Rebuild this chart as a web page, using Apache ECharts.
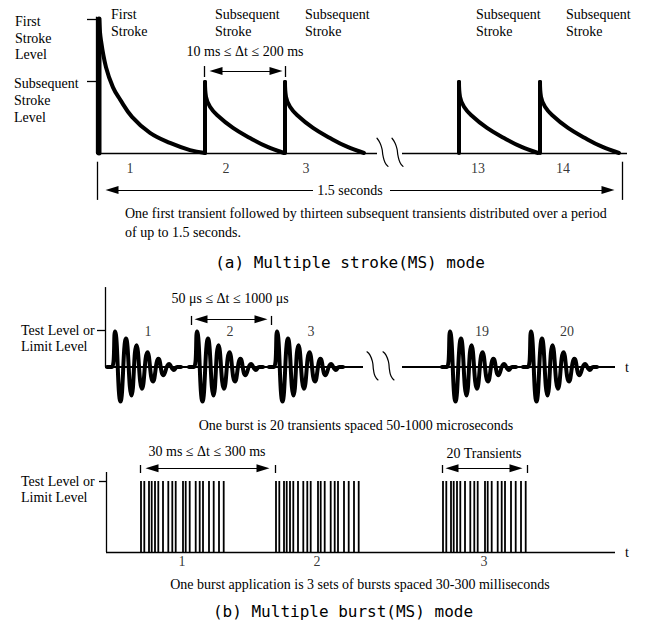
<!DOCTYPE html>
<html><head><meta charset="utf-8">
<script src="https://cdn.jsdelivr.net/npm/echarts@6/dist/echarts.min.js"></script>
<style>html,body{margin:0;padding:0;background:#fff}#c{width:645px;height:622px}</style>
</head><body><div id="c"></div>
<script>
// ===== (a) Multiple stroke mode =====
const strokeLabels = ['1', '2', '3', '13', '14'];
const strokeStarts = [3, 109, 189, 363, 444];
const strokeLabelPos = [34, 130, 210, 382, 467];
const firstStrokeLevel = 1.0;
const subsequentStrokeLevel = 0.537;
const firstDecay = [[0, 1.0], [2, 0.84], [7, 0.64], [14, 0.49], [21, 0.40], [33, 0.27], [51, 0.15], [71, 0.075], [91, 0.022], [106, 0]];
const subDecay = [[0, 0.53], [1, 0.42], [5, 0.345], [12, 0.284], [28, 0.187], [45, 0.112], [62, 0.047], [79, 0]];
const breakA1 = [[281, 0.11], [284, 0.075], [286, 0.03], [287, -0.02], [289, -0.07], [292, -0.1]];
const breakA2 = [[296, 0.11], [299, 0.075], [301, 0.03], [302, -0.02], [304, -0.07], [307, -0.1]];

// ===== (b) Multiple burst mode: ringing bursts =====
const burstLabels = ['1', '2', '3', '19', '20'];
const burstPeaks = [10, 92, 172, 345, 426];
const burstLabelPos = [43, 125, 206, 377, 462];
const ringing = [[-8, 0], [-3, 0], [0, 0.96], [5.5, -0.93], [11, 0.77], [16.5, -0.77], [21.5, 0.59], [27, -0.59], [32.5, 0.40], [38, -0.39], [43.5, 0.22], [48.5, -0.22], [54, 0.08], [59, -0.08], [62, 0], [66, 0]];
const breakB1 = [[262, 0.41], [265, 0.32], [267.5, 0.14], [268.5, -0.08], [270, -0.24], [273, -0.35]];
const breakB2 = [[278, 0.41], [281, 0.32], [283.5, 0.14], [284.5, -0.08], [286, -0.24], [289, -0.35]];

// ===== (b) burst sets =====
const setLabels = ['1', '2', '3'];
const setStarts = [35, 170, 337];
const setLabelPos = [76, 211, 378];
const pulseOffsets = [0, 3.3, 8, 10.7, 14, 17.3, 22, 27.3, 31.3, 34.7, 42, 44.7, 48.7, 54.7, 58.7, 62, 68, 72.7, 78, 82.7];
const pulseLevel = 1.0;

// ===== layout =====
const SERIF = '"Liberation Serif", "Times New Roman", serif';
const MONO = '"DejaVu Sans Mono", monospace';
const FS = 14;
const panels = [
  {ox: 96, oy: 153, uy: 134, xmin: -12, xmax: 540, ymin: -0.42, ymax: 1.05},
  {ox: 105, oy: 367, uy: 37, xmin: -12, xmax: 535, ymin: -1.3, ymax: 2.3},
  {ox: 106, oy: 552, uy: 71, xmin: -12, xmax: 535, ymin: -0.25, ymax: 1.35}
];
const grid = panels.map(p => ({left: p.ox + p.xmin, top: p.oy - p.ymax * p.uy,
  width: p.xmax - p.xmin, height: (p.ymax - p.ymin) * p.uy, containLabel: false}));
const xAxis = panels.map((p, i) => ({gridIndex: i, type: 'value', min: p.xmin, max: p.xmax, show: false}));
const yAxis = panels.map((p, i) => ({gridIndex: i, type: 'value', min: p.ymin, max: p.ymax, show: false}));

const series = [];
function lineS(gi, data, width, smooth, extra) {
  series.push(Object.assign({type: 'line', xAxisIndex: gi, yAxisIndex: gi, data, symbol: 'none',
    smooth: smooth || false, silent: true, clip: false,
    lineStyle: {color: '#000', width, cap: 'round', join: 'round'}}, extra || {}));
}
function segs(gi, list, width, symbols) {
  series.push({type: 'line', xAxisIndex: gi, yAxisIndex: gi, data: [], silent: true,
    markLine: {silent: true, animation: false, symbol: symbols || ['none', 'none'], symbolSize: [8, 13],
      label: {show: false}, emphasis: {disabled: true},
      lineStyle: {color: '#000', width, type: 'solid'},
      data: list.map(s => [{coord: s[0]}, {coord: s[1]}])}});
}
function labels(gi, names, xs, y) {
  series.push({type: 'scatter', xAxisIndex: gi, yAxisIndex: gi, symbolSize: 0, silent: true,
    itemStyle: {color: '#000'},
    data: names.map((n, i) => ({name: n, value: [xs[i], y]})),
    label: {show: true, position: 'inside', formatter: d => d.name, color: '#000',
      textBorderWidth: 0, textBorderColor: 'transparent', fontFamily: SERIF, fontSize: FS}});
}

// panel (a)
segs(0, [[[0, 0], [0, 1.017]], [[-9, firstStrokeLevel], [0, firstStrokeLevel]], [[-9, subsequentStrokeLevel], [0, subsequentStrokeLevel]],
  [[0, 0], [281, 0]], [[306, 0], [531, 0]],
  [[108, 0.567], [108, 0.649]], [[189, 0.567], [189, 0.649]],
  [[1, -0.065], [1, -0.35]], [[526, -0.065], [526, -0.35]]], 1.3);
segs(0, [[[120, 0.612], [180, 0.612]]], 1, ['triangle', 'triangle']);
segs(0, [[[16, -0.276], [217, -0.276]]], 1, ['triangle', 'none']);
segs(0, [[[294, -0.276], [512, -0.276]]], 1, ['none', 'triangle']);
strokeStarts.forEach((s, i) => {
  const lvl = i === 0 ? firstStrokeLevel : subDecay[0][1];
  lineS(0, [[s, 0], [s, lvl]], i === 0 ? 5 : 4);
  const shape = i === 0 ? firstDecay : subDecay;
  lineS(0, shape.map(p => [s + p[0], p[1]]), 4, 0.4);
});
lineS(0, breakA1, 1.2, 0.5);
lineS(0, breakA2, 1.2, 0.5);
labels(0, strokeLabels, strokeLabelPos, -0.112);

// panel (b) ringing
segs(1, [[[0, 0], [0, 2.16]], [[-8, 1], [0, 1]], [[86, 1.135], [86, 1.38]], [[166, 1.135], [166, 1.38]]], 1.3);
segs(1, [[[0, 0], [258, 0]], [[297, 0], [510, 0]]], 2);
segs(1, [[[96, 1.29], [156, 1.29]]], 1, ['triangle', 'triangle']);
burstPeaks.forEach(b => lineS(1, ringing.map(p => [b + p[0], p[1]]), 4, 0.5));
lineS(1, breakB1, 1.2, 0.5);
lineS(1, breakB2, 1.2, 0.5);
labels(1, burstLabels, burstLabelPos, 0.95);

// panel (b) burst sets
segs(2, [[[0, 0], [0, 1.127]], [[-7, 1], [0, 1]], [[0, 0], [509, 0]],
  [[34, 1.113], [34, 1.225]], [[169, 1.113], [169, 1.225]], [[336, 1.113], [336, 1.225]], [[421, 1.113], [421, 1.225]]], 1.3);
segs(2, [[[46, 1.18], [157, 1.18]], [[346, 1.18], [410, 1.18]]], 1, ['triangle', 'triangle']);
const pulses = [];
setStarts.forEach(s => pulseOffsets.forEach(o => pulses.push([s + o, pulseLevel])));
series.push({type: 'bar', xAxisIndex: 2, yAxisIndex: 2, data: pulses, barWidth: 1.8, silent: true,
  itemStyle: {color: '#000'}});
labels(2, setLabels, setLabelPos, -0.14);

// ===== texts =====
function T(text, x, y, align, font) {
  return {type: 'text', x, y, silent: true, style: {text, fill: '#000', font: font || (FS + 'px ' + SERIF),
    textAlign: align || 'left', align: align || 'left', textVerticalAlign: 'middle', verticalAlign: 'middle'}};
}
const graphic = [
  T('First', 15, 21), T('Stroke', 15, 38), T('Level', 15, 54),
  T('Subsequent', 14, 83), T('Stroke', 14, 100), T('Level', 14, 117),
  T('First', 111, 14), T('Stroke', 111, 31),
  T('Subsequent', 215, 14), T('Stroke', 215, 31),
  T('Subsequent', 305, 14), T('Stroke', 305, 31),
  T('Subsequent', 476, 14), T('Stroke', 476, 31),
  T('Subsequent', 566, 14), T('Stroke', 566, 31),
  T('10 ms \u2264 \u0394t \u2264 200 ms', 245, 51, 'center'),
  T('1.5 seconds', 350, 190, 'center'),
  T('One first transient followed by thirteen subsequent transients distributed over a period', 125, 213),
  T('of up to 1.5 seconds.', 125, 232),
  T('(a) Multiple stroke(MS) mode', 350, 262, 'center', '16px ' + MONO),
  T('Test Level or', 21, 330), T('Limit Level', 21, 346),
  T('50 \u03bcs \u2264 \u0394t \u2264 1000 \u03bcs', 230, 298, 'center'),
  T('t', 625, 367),
  T('One burst is 20 transients spaced 50-1000 microseconds', 356, 425, 'center'),
  T('Test Level or', 21, 481), T('Limit Level', 21, 497),
  T('30 ms \u2264 \u0394t \u2264 300 ms', 207, 451, 'center'),
  T('20 Transients', 484, 453, 'center'),
  T('t', 625, 552),
  T('One burst application is 3 sets of bursts spaced 30-300 milliseconds', 360, 584, 'center'),
  T('(b) Multiple burst(MS) mode', 343, 611, 'center', '16px ' + MONO)
];

const chart = echarts.init(document.getElementById('c'), null, {renderer: 'svg'});
chart.setOption({backgroundColor: '#fff', animation: false, grid, xAxis, yAxis, series, graphic});
</script></body></html>
